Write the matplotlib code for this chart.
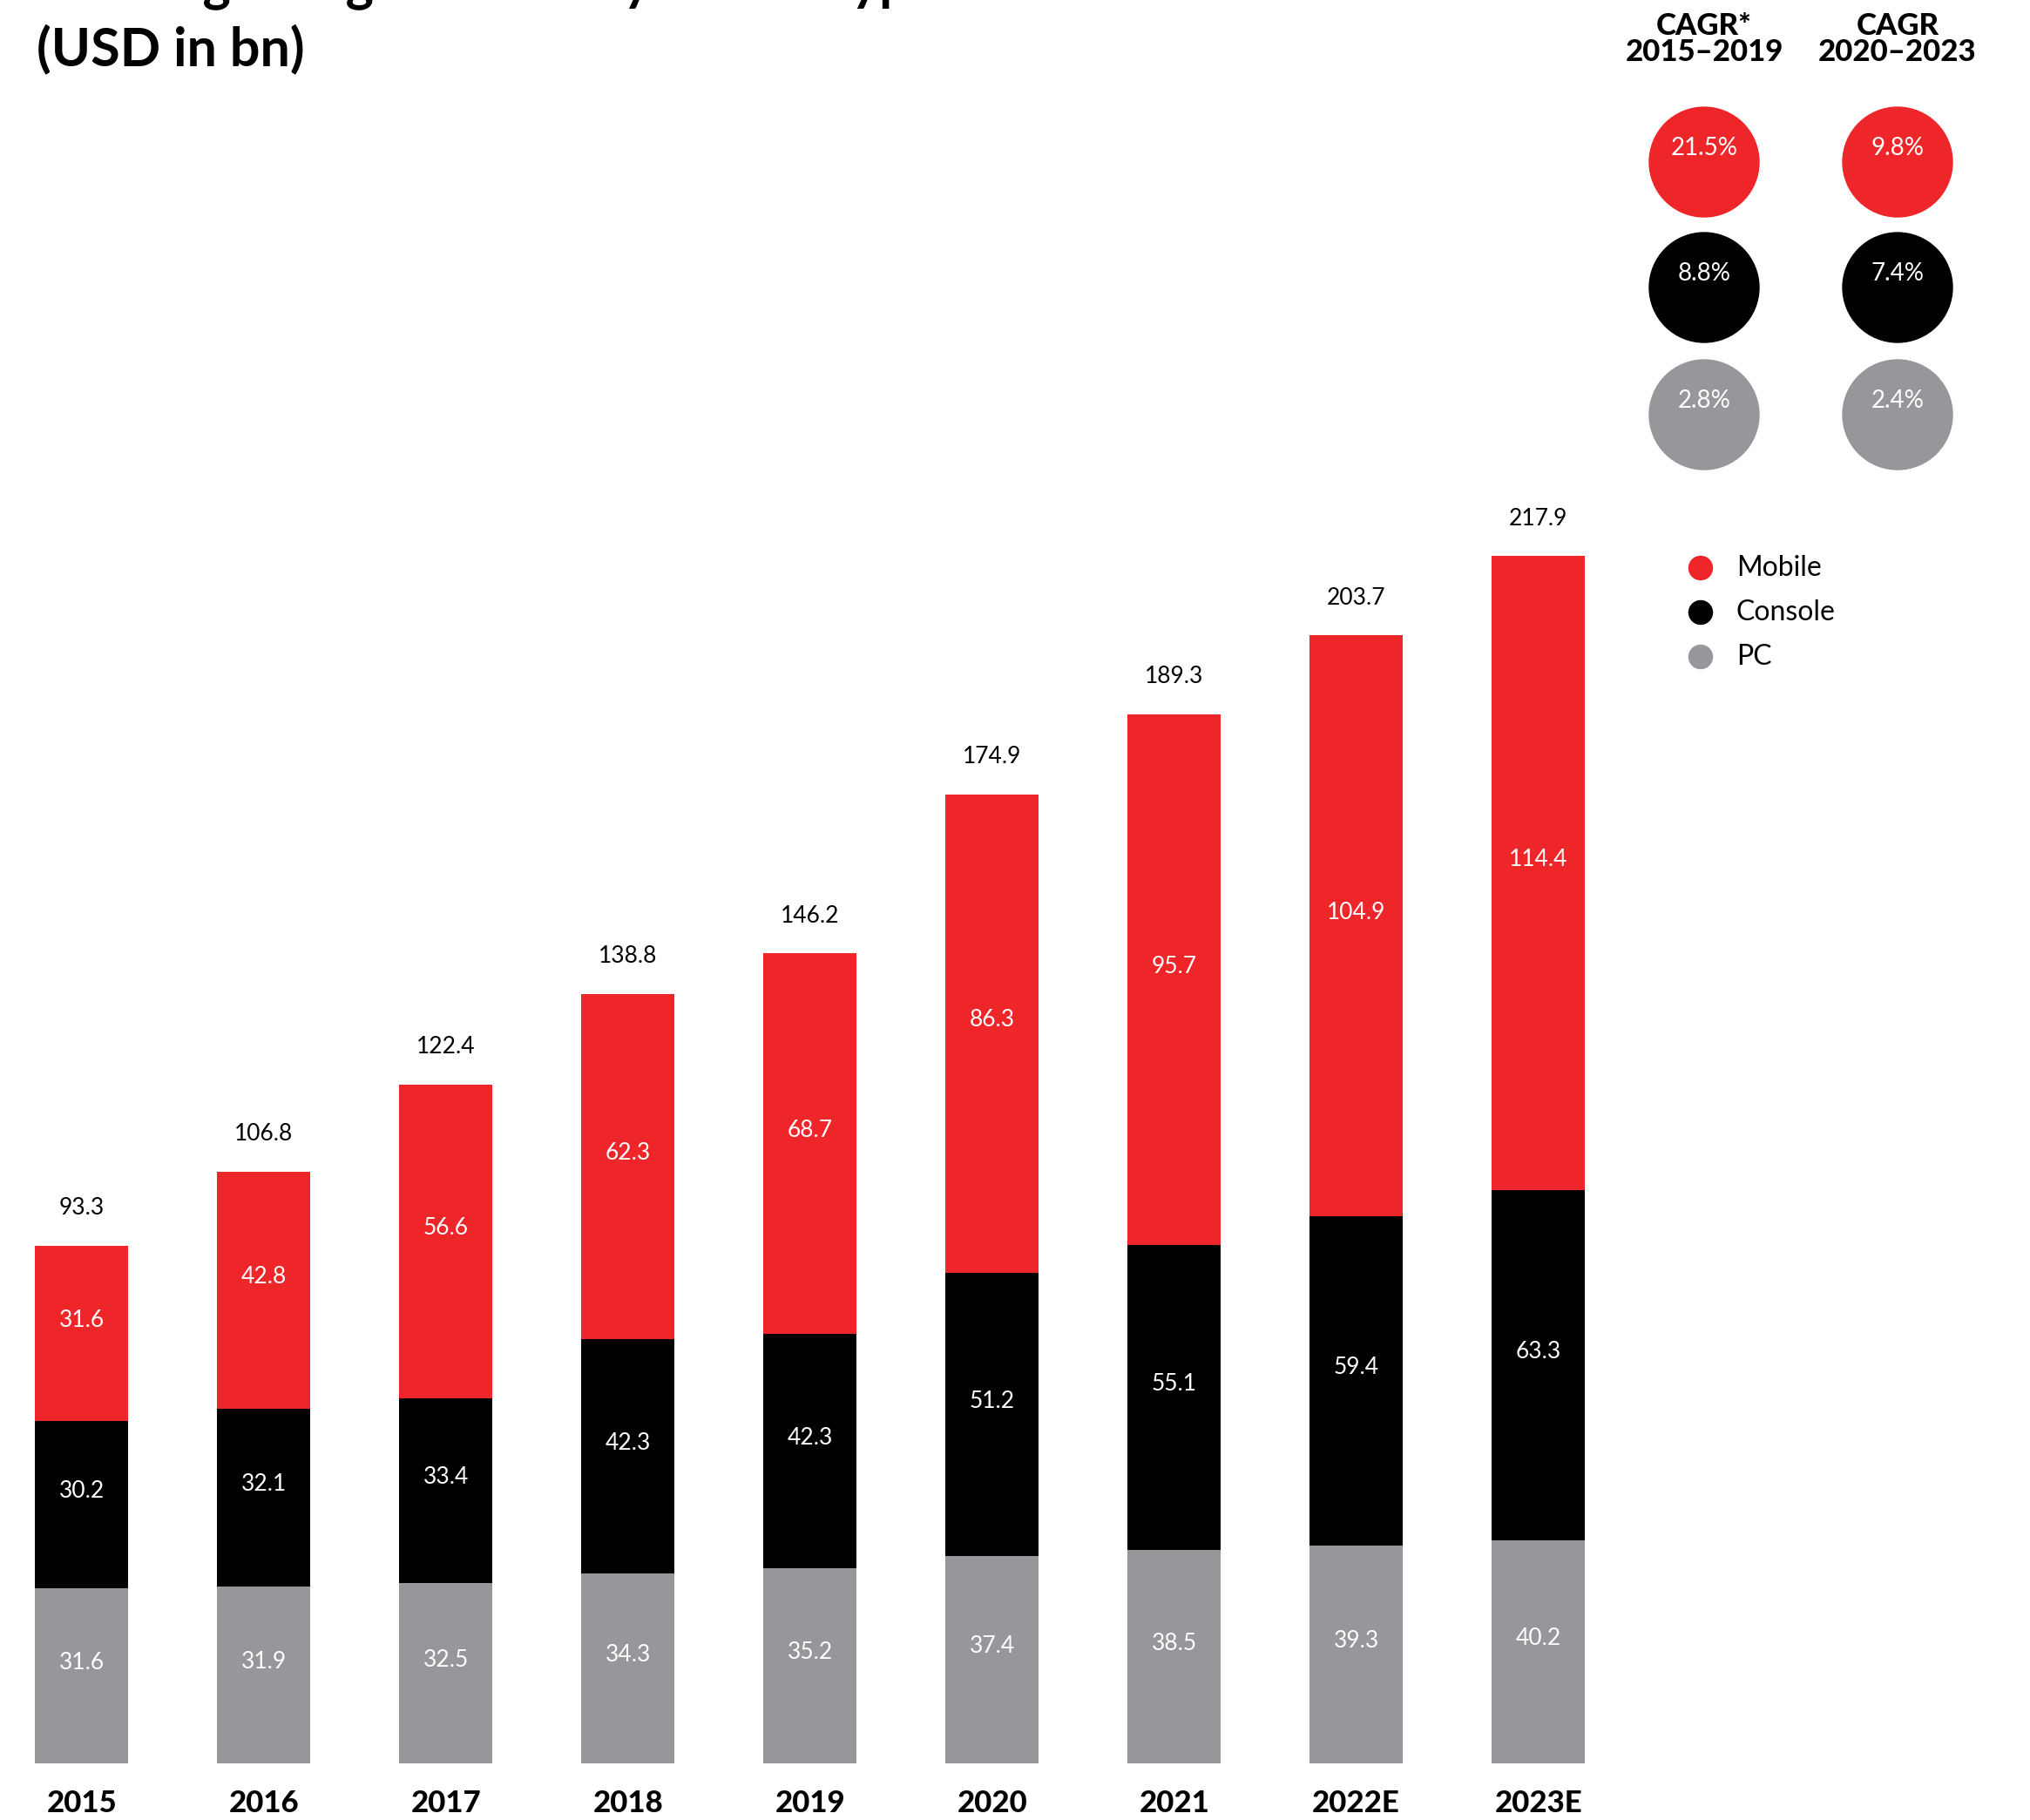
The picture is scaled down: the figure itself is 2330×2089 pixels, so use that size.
import matplotlib.pyplot as plt
from matplotlib.patches import Circle

plt.rcParams['font.family'] = ['Lato', 'DejaVu Sans']

years = ['2015', '2016', '2017', '2018', '2019', '2020', '2021', '2022E', '2023E']
pc = [31.6, 31.9, 32.5, 34.3, 35.2, 37.4, 38.5, 39.3, 40.2]
console = [30.2, 32.1, 33.4, 42.3, 42.3, 51.2, 55.1, 59.4, 63.3]
mobile = [31.6, 42.8, 56.6, 62.3, 68.7, 86.3, 95.7, 104.9, 114.4]
totals = [93.3, 106.8, 122.4, 138.8, 146.2, 174.9, 189.3, 203.7, 217.9]

segments = ['Mobile', 'Console', 'PC']
cagr_headers = ['CAGR*\n2015\u20132019', 'CAGR\n2020\u20132023']
cagr_1519 = ['21.5%', '8.8%', '2.8%']
cagr_2023 = ['9.8%', '7.4%', '2.4%']

RED = '#ee2529'
BLACK = '#000000'
GREY = '#96979a'
colors = [RED, BLACK, GREY]

W, H = 2330, 2089
fig = plt.figure(figsize=(W / 100, H / 100), dpi=100)

# axes placed in pixel terms: base line at y=2024 from top, 6.36 px per bn
ymax = 230
ax = fig.add_axes([0 / W, 65 / H, 1880 / W, ymax * 6.36 / H])
ax.set_xlim(-0.448, -0.448 + 1880 / 209)
ax.set_ylim(0, ymax)
ax.axis('off')

x = list(range(len(years)))
bw = 0.51
bottom_console = pc
bottom_mobile = [p + c for p, c in zip(pc, console)]

ax.bar(x, pc, bw, color=GREY, linewidth=0)
ax.bar(x, console, bw, bottom=bottom_console, color=BLACK, linewidth=0)
ax.bar(x, mobile, bw, bottom=bottom_mobile, color=RED, linewidth=0)

seg_fs = 19
for i in x:
    for val, base in [(pc[i], 0), (console[i], bottom_console[i]), (mobile[i], bottom_mobile[i])]:
        ax.annotate(f'{val:.1f}', (i, base + val / 2), xytext=(0, 11), textcoords='offset points',
                    ha='center', va='center', color='white', fontsize=seg_fs)
    top = bottom_mobile[i] + mobile[i]
    ax.annotate(f'{totals[i]:.1f}', (i, top), xytext=(0, 31), textcoords='offset points',
                ha='center', va='center', color=BLACK, fontsize=seg_fs)
    ax.annotate(years[i], (i, 0), xytext=(0, -33), textcoords='offset points',
                ha='center', va='center', color=BLACK, fontsize=25, fontweight='black')

# title, first line runs off the top edge
fig.text(42 / W, 1 - (-18) / H, 'Global gaming revenue by device type', ha='left', va='center',
         fontsize=44, fontweight='bold')
fig.text(42 / W, 1 - 56 / H, '(USD in bn)', ha='left', va='center', fontsize=44, fontweight='bold')

# CAGR columns
col_x = [1956, 2178]
row_y = [186, 330, 476]
for cx, head, vals in zip(col_x, cagr_headers, [cagr_1519, cagr_2023]):
    fig.text(cx / W, 1 - 45 / H, head, ha='center', va='center', fontsize=25,
             fontweight='black', linespacing=0.9)
    for cy, col, v in zip(row_y, colors, vals):
        fig.patches.append(Circle((cx, H - cy), 63, color=col, transform=None))
        fig.text(cx / W, 1 - (cy - 16) / H, v, ha='center', va='center', color='white', fontsize=20)

# legend
leg_y = [652, 703, 754]
for ly, col, name in zip(leg_y, colors, segments):
    fig.patches.append(Circle((1952, H - ly), 13.5, color=col, transform=None))
    fig.text(1993 / W, 1 - ly / H, name, ha='left', va='center', fontsize=23)

fig.savefig('out.png', dpi=100)
